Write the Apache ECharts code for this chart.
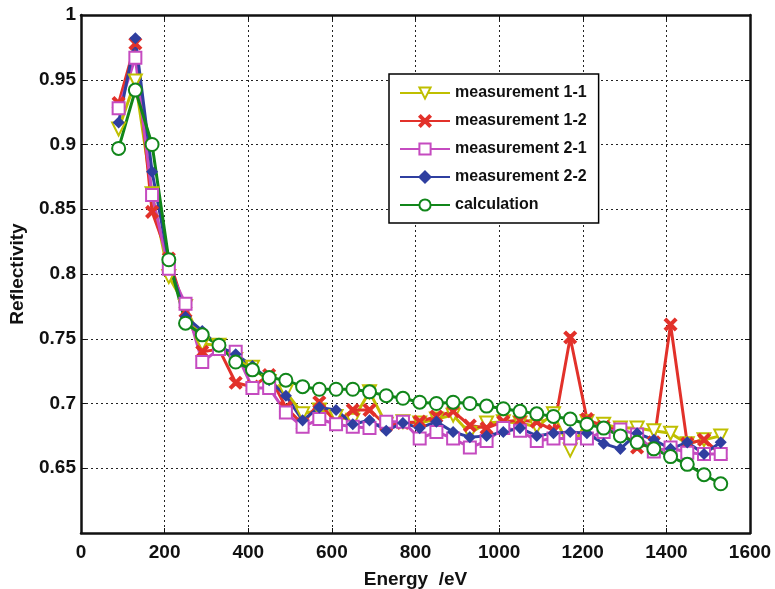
<!DOCTYPE html>
<html>
<head>
<meta charset="utf-8">
<script src="https://cdn.jsdelivr.net/npm/echarts@6/dist/echarts.min.js"></script>
<style>
html,body{margin:0;padding:0;background:#fff;}
#chart{width:775px;height:589px;}
</style>
</head>
<body>
<div id="chart"></div>
<script>
// Energy (eV)
var energy = [90,130,170,210,250,290,330,370,410,450,490,530,570,610,650,690,730,770,810,850,890,930,970,1010,1050,1090,1130,1170,1210,1250,1290,1330,1370,1410,1450,1490,1530];

var meas11 = [0.912,0.949,0.862,0.798,0.775,0.746,0.745,0.734,0.728,0.717,0.709,0.692,0.695,0.690,0.687,0.709,0.684,0.686,0.685,0.688,0.691,0.677,0.685,0.686,0.685,0.682,0.692,0.664,0.686,0.684,0.681,0.681,0.679,0.677,0.669,0.672,0.675];
var meas12 = [0.932,0.978,0.848,0.812,0.771,0.740,0.742,0.716,0.713,0.722,0.697,0.684,0.701,0.685,0.695,0.695,0.683,0.685,0.686,0.690,0.694,0.683,0.681,0.686,0.687,0.686,0.679,0.751,0.688,0.682,0.679,0.666,0.670,0.761,0.669,0.672,0.661];
var meas21 = [0.928,0.967,0.861,0.804,0.777,0.732,0.742,0.740,0.712,0.712,0.693,0.682,0.688,0.684,0.682,0.681,0.686,0.686,0.673,0.678,0.673,0.666,0.671,0.681,0.679,0.671,0.673,0.673,0.673,0.678,0.680,0.676,0.663,0.666,0.662,0.661,0.661];
var meas22 = [0.917,0.982,0.879,0.810,0.767,0.756,0.744,0.738,0.729,0.718,0.706,0.687,0.697,0.695,0.684,0.687,0.679,0.685,0.681,0.686,0.678,0.674,0.675,0.678,0.681,0.675,0.677,0.678,0.677,0.669,0.665,0.677,0.672,0.665,0.670,0.661,0.670];
var calc   = [0.897,0.942,0.900,0.811,0.762,0.753,0.745,0.732,0.726,0.720,0.718,0.713,0.711,0.711,0.711,0.709,0.706,0.704,0.701,0.700,0.701,0.700,0.698,0.696,0.694,0.692,0.690,0.688,0.684,0.681,0.675,0.670,0.665,0.659,0.653,0.645,0.638];

var seriesNames = ['measurement 1-1','measurement 1-2','measurement 2-1','measurement 2-2','calculation'];
var xTicks = {min:0, max:1600, interval:200};
var yTicks = {min:0.6, max:1, interval:0.05};

function pairs(ys){ return energy.map(function(x,i){ return [x, ys[i]]; }); }

var FONT = '"Liberation Sans", Arial, sans-serif';
var xMark = 'path://M0,1.2L1.2,0L5,3.8L8.8,0L10,1.2L6.2,5L10,8.8L8.8,10L5,6.2L1.2,10L0,8.8L3.8,5Z';

function mk(name, data, color, symbol, size, extra){
  var s = {
    name: name, type:'line', data: pairs(data),
    symbol: symbol, symbolSize: size, showAllSymbol: true,
    lineStyle:{color:color, width:3},
    itemStyle:{color:color, borderColor:color, borderWidth:2.2},
    emphasis:{disabled:true}, animation:false, z: 3
  };
  if (extra) for (var k in extra) s[k]=extra[k];
  return s;
}

var chart = echarts.init(document.getElementById('chart'), null, {renderer:'canvas'});
var splitStyle = {show:true, lineStyle:{color:'#222', type:[2,3], width:1}};
var axisLineStyle = {show:true, onZero:false, lineStyle:{color:'#111', width:2.5}};
var tickStyle = {show:true, inside:true, length:5, lineStyle:{color:'#111', width:1}};
chart.setOption({
  backgroundColor:'#fff',
  animation:false,
  grid:{left:81, right:25, top:15, bottom:56, show:false, containLabel:false, outerBoundsMode:'none'},
  legend:{
    orient:'vertical', left:389, top:74,
    data: seriesNames,
    itemWidth:50, itemHeight:14, itemGap:8,
    padding:[9,12,8,10],
    backgroundColor:'#fff', borderColor:'#000', borderWidth:1.5,
    textStyle:{fontFamily:FONT, fontWeight:'bold', fontSize:16, color:'#111', lineHeight:20},
    selectedMode:false
  },
  xAxis:[{
    type:'value', min:xTicks.min, max:xTicks.max, interval:xTicks.interval,
    name:'Energy  /eV', nameLocation:'middle', nameGap:37,
    nameTextStyle:{fontFamily:FONT, fontWeight:'bold', fontSize:19, color:'#111'},
    axisLine:axisLineStyle, axisTick:tickStyle,
    axisLabel:{fontFamily:FONT, fontWeight:'bold', fontSize:19, color:'#111', margin:10,
      formatter:function(v){ return String(v); }},
    splitLine: splitStyle
  },{
    type:'value', position:'top', min:xTicks.min, max:xTicks.max, interval:xTicks.interval,
    axisLine:axisLineStyle, axisTick:tickStyle,
    axisLabel:{show:false}, splitLine:{show:false}
  }],
  yAxis:[{
    type:'value', min:yTicks.min, max:yTicks.max, interval:yTicks.interval,
    name:'Reflectivity', nameLocation:'middle', nameGap:54, nameRotate:90,
    nameTextStyle:{fontFamily:FONT, fontWeight:'bold', fontSize:19, color:'#111'},
    axisLine:axisLineStyle, axisTick:tickStyle,
    axisLabel:{fontFamily:FONT, fontWeight:'bold', fontSize:19, color:'#111', margin:5,
      formatter:function(v){ if (Math.abs(v-0.6)<1e-9) return ''; return String(+v.toFixed(2)); }},
    splitLine: splitStyle
  },{
    type:'value', position:'right', min:yTicks.min, max:yTicks.max, interval:yTicks.interval,
    axisLine:axisLineStyle, axisTick:tickStyle,
    axisLabel:{show:false}, splitLine:{show:false}
  }],
  series:[
    mk(seriesNames[0], meas11, '#bfbf00', 'emptyTriangle', 13, {symbolRotate:180}),
    mk(seriesNames[1], meas12, '#e2312a', xMark, 11),
    mk(seriesNames[2], meas21, '#c54bc0', 'emptyRect', 12),
    mk(seriesNames[3], meas22, '#2f3fa0', 'diamond', 9),
    mk(seriesNames[4], calc,   '#11861a', 'emptyCircle', 13)
  ]
});
</script>
</body>
</html>
